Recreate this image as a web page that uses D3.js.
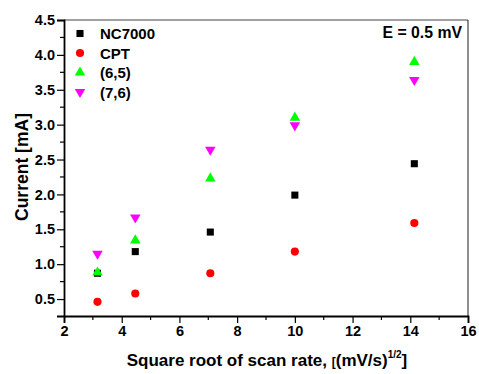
<!DOCTYPE html>
<html>
<head>
<meta charset="utf-8">
<script src="https://cdn.jsdelivr.net/npm/d3@7"></script>
<style>
  body { margin: 0; background: #fff; }
  text { font-family: "Liberation Sans", Arial, sans-serif; font-weight: bold; }
</style>
</head>
<body>
<div id="chart"></div>
<script>
var svgWidth = 479;
var svgHeight = 374;

var margin = { top: 20, right: 11, bottom: 58, left: 64 };
var chartWidth = svgWidth - margin.left - margin.right;
var chartHeight = svgHeight - margin.top - margin.bottom;

// scan rate square roots (sqrt of 10, 20, 50, 100, 200 mV/s)
var scanRoots = [3.16, 4.47, 7.07, 10.0, 14.14];
var nc7000 = [0.87, 1.18, 1.46, 1.99, 2.44];
var cpt = [0.46, 0.58, 0.87, 1.18, 1.59];
var cnt65 = [0.88, 1.34, 2.23, 3.10, 3.90];
var cnt76 = [1.15, 1.67, 2.64, 2.99, 3.64];

var xTicks = [2, 4, 6, 8, 10, 12, 14, 16];
var yTicks = [0.5, 1.0, 1.5, 2.0, 2.5, 3.0, 3.5, 4.0, 4.5];

var series = [
  { name: "NC7000", values: nc7000, color: "#000000", shape: d3.symbolSquare, size: 50, rot: 0 },
  { name: "CPT", values: cpt, color: "#ff0000", shape: d3.symbolCircle, size: 52, rot: 0 },
  { name: "(6,5)", values: cnt65, color: "#00ff00", shape: d3.symbolTriangle, size: 48, rot: 0 },
  { name: "(7,6)", values: cnt76, color: "#ff00ff", shape: d3.symbolTriangle, size: 48, rot: 180 }
];

var svg = d3.select("#chart")
  .append("svg")
  .attr("width", svgWidth)
  .attr("height", svgHeight);

var chartGroup = svg.append("g")
  .attr("transform", `translate(${margin.left}, ${margin.top})`);

var xScale = d3.scaleLinear().domain([2, 16]).range([0, chartWidth]);
var yScale = d3.scaleLinear().domain([0.257, 4.5]).range([chartHeight, 0]);

// frame top / right
chartGroup.append("line")
  .attr("x1", 0).attr("x2", chartWidth).attr("y1", 0).attr("y2", 0)
  .attr("stroke", "#444").attr("stroke-width", 1.2);
chartGroup.append("line")
  .attr("x1", chartWidth).attr("x2", chartWidth).attr("y1", 0).attr("y2", chartHeight)
  .attr("stroke", "#444").attr("stroke-width", 1.2);

// minor ticks
var xMinor = d3.range(3, 16, 2);
var yMinor = d3.range(0.75, 4.5, 0.5);

chartGroup.selectAll(".xminor").data(xMinor).enter()
  .append("line")
  .attr("x1", d => xScale(d)).attr("x2", d => xScale(d))
  .attr("y1", chartHeight).attr("y2", chartHeight + 4)
  .attr("stroke", "#000").attr("stroke-width", 1.2);

chartGroup.selectAll(".yminor").data(yMinor).enter()
  .append("line")
  .attr("x1", 0).attr("x2", -4)
  .attr("y1", d => yScale(d)).attr("y2", d => yScale(d))
  .attr("stroke", "#000").attr("stroke-width", 1.2);

var bottomAxis = d3.axisBottom(xScale).tickValues(xTicks).tickFormat(d3.format("d")).tickSizeOuter(0).tickSize(7).tickPadding(3);
var leftAxis = d3.axisLeft(yScale).tickValues(yTicks).tickFormat(d3.format(".1f")).tickSizeOuter(0).tickSize(7).tickPadding(2);

var gx = chartGroup.append("g")
  .attr("transform", `translate(0, ${chartHeight})`)
  .call(bottomAxis);
var gy = chartGroup.append("g")
  .call(leftAxis);

[gx, gy].forEach(function(g) {
  g.select(".domain").attr("stroke", "#000").attr("stroke-width", 1.8);
  g.selectAll(".tick line").attr("stroke", "#000").attr("stroke-width", 1.2);
  g.selectAll(".tick text")
    .attr("fill", "#000")
    .attr("font-size", "14.5px")
    .attr("font-family", "'Liberation Sans', Arial, sans-serif")
    .attr("font-weight", "bold");
});

// points
series.forEach(function(s) {
  chartGroup.selectAll(null).data(s.values).enter()
    .append("path")
    .attr("d", d3.symbol().type(s.shape).size(s.size))
    .attr("transform", (d, i) => `translate(${xScale(scanRoots[i])}, ${yScale(d)}) rotate(${s.rot})`)
    .attr("fill", s.color);
});

// legend
var legend = chartGroup.selectAll(".legend").data(series).enter()
  .append("g")
  .attr("transform", (d, i) => `translate(16, ${13.5 + i * 19.5})`);

legend.append("path")
  .attr("d", d => d3.symbol().type(d.shape).size(d.size)())
  .attr("transform", d => `rotate(${d.rot})`)
  .attr("fill", d => d.color);

legend.append("text")
  .attr("x", 20)
  .attr("y", 5.5)
  .attr("font-size", "15px")
  .text(d => d.name);

chartGroup.append("text")
  .attr("x", chartWidth - 6)
  .attr("y", 17.5)
  .attr("text-anchor", "end")
  .attr("font-size", "15.8px")
  .text("E = 0.5 mV");

// axis titles
chartGroup.append("text")
  .attr("transform", "rotate(-90)")
  .attr("x", -chartHeight / 2 + 1)
  .attr("y", -36)
  .attr("text-anchor", "middle")
  .attr("font-size", "17.5px")
  .text("Current [mA]");

var xTitle = chartGroup.append("text")
  .attr("x", chartWidth / 2 + 1)
  .attr("y", chartHeight + 50)
  .attr("text-anchor", "middle")
  .attr("font-size", "17px");
xTitle.append("tspan").text("Square root of scan rate, ");
xTitle.append("tspan").attr("font-size", "12px").text("[");
xTitle.append("tspan").text("(mV/s)");
xTitle.append("tspan").attr("font-size", "10px").attr("dy", -8).text("1/2");
xTitle.append("tspan").attr("dy", 8).text("]");
</script>
</body>
</html>
